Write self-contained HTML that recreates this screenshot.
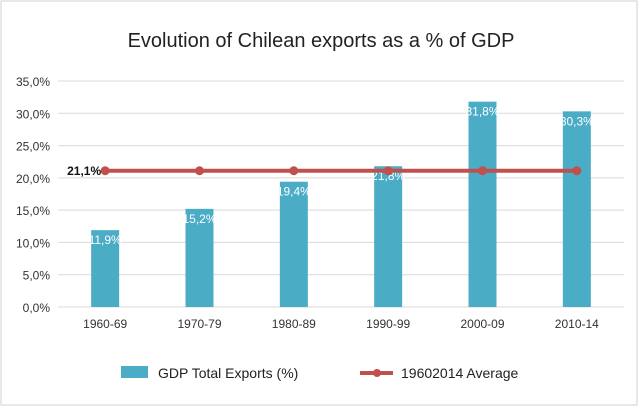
<!DOCTYPE html>
<html><head><meta charset="utf-8"><style>
body{margin:0;background:#fff;width:642px;height:410px;overflow:hidden;font-family:"Liberation Sans",sans-serif}
svg text{font-family:"Liberation Sans",sans-serif}
</style></head><body>
<svg width="642" height="410">
<rect x="1" y="1" width="636" height="404" fill="#fff" stroke="#d0d0d0"/>
<text x="321" y="47" font-size="20" text-anchor="middle" fill="#222">Evolution of Chilean exports as a % of GDP</text>
<g id="grid"></g><g id="bars"></g><g id="line"></g>
<g>
<rect x="121" y="366" width="27" height="12" fill="#4bacc6"/>
<text x="158" y="378" font-size="14" fill="#222">GDP Total Exports (%)</text>
<line x1="360" y1="373" x2="393" y2="373" stroke="#c0504d" stroke-width="4"/>
<circle cx="377" cy="373" r="4" fill="#c0504d"/>
<text x="401" y="378" font-size="14" fill="#222">19602014 Average</text>
</g>
</svg>
<script>
const categories=["1960-69","1970-79","1980-89","1990-99","2000-09","2010-14"];
const exportsPct=[11.9,15.2,19.4,21.8,31.8,30.3];
const averagePct=[21.1,21.1,21.1,21.1,21.1,21.1];
const yTicks=[0,5,10,15,20,25,30,35];
const NS="http://www.w3.org/2000/svg";
const x0=58,x1=624,y0=307,yTop=81;
const y=v=>y0-(v/35)*(y0-yTop);
const step=(x1-x0)/categories.length;
const x=i=>x0+step*(i+0.5);
const fmt=v=>v.toFixed(1).replace('.',',')+'%';
function mk(t,a,p){const e=document.createElementNS(NS,t);for(const k in a)e.setAttribute(k,a[k]);p.appendChild(e);return e;}
const g=document.getElementById('grid'),b=document.getElementById('bars'),l=document.getElementById('line');
yTicks.forEach(v=>{
 const ln=mk('line',{x1:x0,x2:x1,y1:y(v),y2:y(v),stroke:'#d9d9d9','stroke-width':1},g);
 
 
 const t=mk('text',{x:50,y:y(v)+5,'font-size':12,'text-anchor':'end',fill:'#333'},g);
 t.textContent=fmt(v);
 
 
});
categories.forEach((c,i)=>{
 const t=mk('text',{x:x(i),y:328,'font-size':12,'text-anchor':'middle',fill:'#333'},g);
 t.textContent=c;
 
 
 const r=mk('rect',{x:x(i)-14,y:y(exportsPct[i]),width:28,height:y0-y(exportsPct[i]),fill:'#4bacc6'},b);
 
 
 const lt=mk('text',{x:x(i),y:y(exportsPct[i])+14,'font-size':12,'text-anchor':'middle',fill:'#fff'},b);
 lt.textContent=fmt(exportsPct[i]);
 
 
});
const pts=averagePct.map((v,i)=>x(i)+','+y(v)).join(' ');
const pl=mk('polyline',{points:pts,fill:'none',stroke:'#c0504d','stroke-width':4},l);


averagePct.forEach((v,i)=>{
 const c=mk('circle',{cx:x(i),cy:y(v),r:4.5,fill:'#c0504d'},l);
 
 
});
const at=mk('text',{x:x(0)-4,y:y(averagePct[0])+4,'font-size':12,'font-weight':'bold','text-anchor':'end',fill:'#111'},l);
at.textContent=fmt(averagePct[0]);


</script>
</body></html>
